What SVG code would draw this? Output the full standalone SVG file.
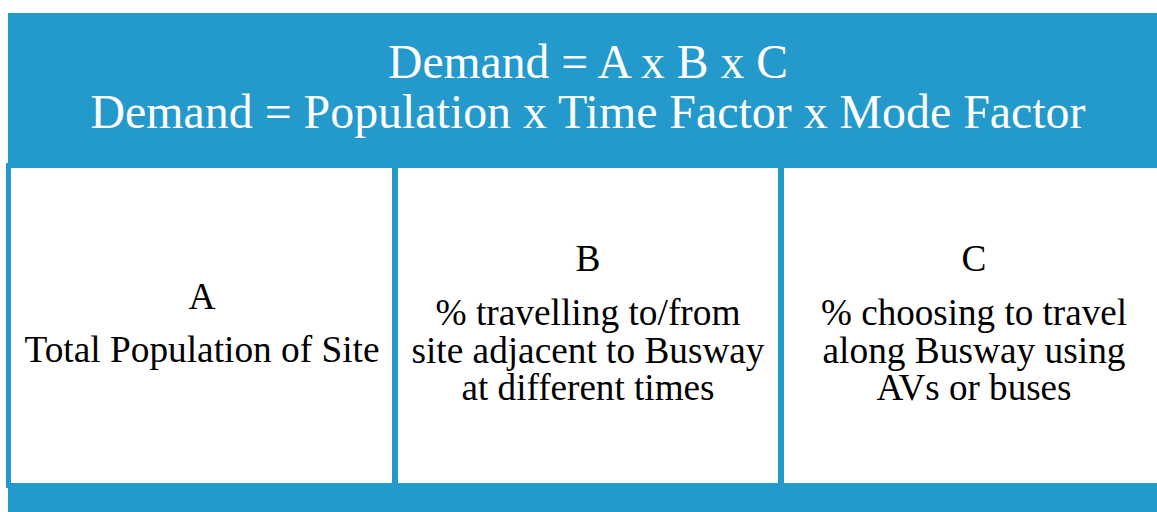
<svg xmlns="http://www.w3.org/2000/svg" width="1157" height="512" viewBox="0 0 1157 512">
<style>
.band{fill:#2499CB}
.title{font-size:47.8px;fill:#ffffff;text-anchor:middle}
.cell{font-size:37.3px;fill:#000000;text-anchor:middle}
</style>
<rect width="1157" height="512" fill="#ffffff"/>
<g id="header" font-family="Liberation Serif, DejaVu Serif, serif">
<rect class="band" x="8" y="13" width="1149" height="155"/>
<text class="title" x="588" y="78" textLength="400" lengthAdjust="spacingAndGlyphs">Demand = A x B x C</text>
<text class="title" x="588" y="128" textLength="995" lengthAdjust="spacingAndGlyphs">Demand = Population x Time Factor x Mode Factor</text>
</g>
<g id="frame">
<rect class="band" x="6" y="163" width="5" height="325"/>
<rect class="band" x="392" y="166" width="6" height="318"/>
<rect class="band" x="778" y="166" width="6" height="318"/>
<rect class="band" x="8" y="483" width="1149" height="29"/>
</g>
<g id="cellA" font-family="Liberation Serif, DejaVu Serif, serif">
<text class="cell" x="202" y="309">A</text>
<text class="cell" x="202" y="362" textLength="355" lengthAdjust="spacingAndGlyphs">Total Population of Site</text>
</g>
<g id="cellB" font-family="Liberation Serif, DejaVu Serif, serif">
<text class="cell" x="588" y="271">B</text>
<text class="cell" x="588" y="325" textLength="305" lengthAdjust="spacingAndGlyphs">% travelling to/from</text>
<text class="cell" x="588" y="363" textLength="353" lengthAdjust="spacingAndGlyphs">site adjacent to Busway</text>
<text class="cell" x="588" y="400" textLength="253" lengthAdjust="spacingAndGlyphs">at different times</text>
</g>
<g id="cellC" font-family="Liberation Serif, DejaVu Serif, serif">
<text class="cell" x="974" y="271">C</text>
<text class="cell" x="974" y="325" textLength="306" lengthAdjust="spacingAndGlyphs">% choosing to travel</text>
<text class="cell" x="974" y="363" textLength="303" lengthAdjust="spacingAndGlyphs">along Busway using</text>
<text class="cell" x="974" y="400" textLength="195" lengthAdjust="spacingAndGlyphs">AVs or buses</text>
</g>
</svg>
